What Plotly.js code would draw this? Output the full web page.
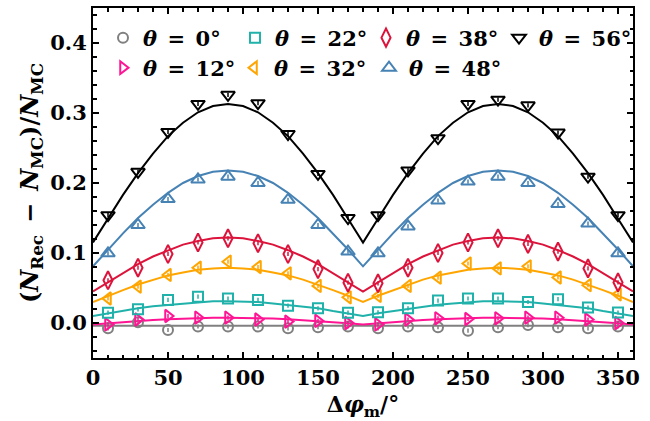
<!DOCTYPE html>
<html><head><meta charset="utf-8">
<script src="https://cdn.plot.ly/plotly-3.0.1.min.js"></script>
<style>html,body{margin:0;padding:0;background:#fff}#chart{width:650px;height:421px}</style>
</head><body><div id="chart"></div>
<script>
// Data points (Δφ_m in degrees)
const phiPts = [10,30,50,70,90,110,130,150,170,190,210,230,250,270,290,310,330,350];
const pts0  = [-0.0076,0.001,-0.010,-0.005,-0.005,-0.005,-0.0076,-0.006,-0.005,-0.0076,-0.005,-0.006,-0.011,-0.006,-0.003,-0.006,-0.0076,-0.005];
const pts12 = [-0.002,0.005,0.010,0.0076,0.0076,0.005,0.002,0.003,0.000,-0.002,0.005,0.0067,0.0057,0.0067,0.0076,0.0076,0.005,0.000];
const pts22 = [0.0148,0.0195,0.033,0.0376,0.035,0.033,0.0248,0.021,0.0148,0.0152,0.021,0.032,0.035,0.035,0.030,0.034,0.022,0.015];
const pts32 = [0.035,0.052,0.0686,0.079,0.0876,0.080,0.071,0.053,0.0367,0.0386,0.053,0.0648,0.085,0.078,0.081,0.065,0.054,0.041];
const pts38 = [0.061,0.079,0.0986,0.115,0.121,0.114,0.0986,0.077,0.0576,0.0567,0.079,0.100,0.115,0.121,0.113,0.102,0.078,0.058];
const pts48 = [0.0995,0.140,0.177,0.205,0.209,0.200,0.176,0.140,0.102,0.0995,0.138,0.175,0.202,0.209,0.200,0.170,0.142,0.0995];
const pts56 = [0.154,0.216,0.273,0.313,0.326,0.314,0.270,0.213,0.150,0.154,0.218,0.264,0.313,0.319,0.311,0.272,0.209,0.154];
const errs  = [0.003,0.003,0.003,0.003,0.003,0.003,0.003];

// Fitted curves, read every 10 degrees
const phiFit = [0,10,20,30,40,50,60,70,80,90,100,110,120,130,140,150,160,170,180,190,200,210,220,230,240,250,260,270,280,290,300,310,320,330,340,350,360];
const fit0  = [-0.004,-0.004,-0.004,-0.004,-0.004,-0.004,-0.004,-0.004,-0.004,-0.004,-0.004,-0.004,-0.004,-0.004,-0.004,-0.004,-0.004,-0.004,-0.004,-0.004,-0.004,-0.004,-0.004,-0.004,-0.004,-0.004,-0.004,-0.004,-0.004,-0.004,-0.004,-0.004,-0.004,-0.004,-0.004,-0.004,-0.004];
const fit12 = [-0.002,-0.0003,0.0013,0.0028,0.0042,0.0054,0.0063,0.0070,0.0075,0.0076,0.0075,0.0070,0.0063,0.0054,0.0042,0.0028,0.0013,-0.0003,-0.002,-0.0003,0.0013,0.0028,0.0042,0.0054,0.0063,0.0070,0.0075,0.0076,0.0075,0.0070,0.0063,0.0054,0.0042,0.0028,0.0013,-0.0003,-0.002];
const fit22 = [0.010,0.014,0.017,0.021,0.024,0.026,0.028,0.030,0.031,0.031,0.031,0.030,0.028,0.026,0.024,0.021,0.017,0.014,0.010,0.014,0.017,0.021,0.024,0.026,0.028,0.030,0.031,0.031,0.031,0.030,0.028,0.026,0.024,0.021,0.017,0.014,0.010];
const fit32 = [0.030,0.039,0.047,0.055,0.062,0.068,0.072,0.076,0.078,0.079,0.078,0.076,0.072,0.068,0.062,0.055,0.047,0.039,0.030,0.039,0.047,0.055,0.062,0.068,0.072,0.076,0.078,0.079,0.078,0.076,0.072,0.068,0.062,0.055,0.047,0.039,0.030];
const fit38 = [0.045,0.058,0.071,0.084,0.095,0.104,0.112,0.117,0.121,0.122,0.121,0.117,0.112,0.104,0.095,0.084,0.071,0.058,0.045,0.058,0.071,0.084,0.095,0.104,0.112,0.117,0.121,0.122,0.121,0.117,0.112,0.104,0.095,0.084,0.071,0.058,0.045];
const fit48 = [0.081,0.105,0.128,0.150,0.169,0.186,0.200,0.210,0.216,0.218,0.216,0.210,0.200,0.186,0.169,0.150,0.128,0.105,0.081,0.105,0.128,0.150,0.169,0.186,0.200,0.210,0.216,0.218,0.216,0.210,0.200,0.186,0.169,0.150,0.128,0.105,0.081];
const fit56 = [0.115,0.149,0.183,0.214,0.242,0.267,0.286,0.301,0.310,0.313,0.310,0.301,0.286,0.267,0.242,0.214,0.183,0.149,0.115,0.149,0.183,0.214,0.242,0.267,0.286,0.301,0.310,0.313,0.310,0.301,0.286,0.267,0.242,0.214,0.183,0.149,0.115];

const thetaLabels = ['0','12','22','32','38','48','56'];
const colors  = ['#808080','#FF1493','#20B2AA','#FFA500','#DC143C','#4682B4','#000000'];
const symbols = ['circle-open','triangle-right-open','square-open','triangle-left-open','diamond-tall-open','triangle-up-open','triangle-down-open'];
const sizes   = [10,11,10,11,13,12,12];
const ptsAll  = [pts0,pts12,pts22,pts32,pts38,pts48,pts56];
const fitAll  = [fit0,fit12,fit22,fit32,fit38,fit48,fit56];

// legend entry placement (marker centre, px from page top-left)
const legMarkX = [125,125,257,256,388,391,521];
const legRowY  = [38,68,38,68,38,68,38];

const W = 650, H = 421, ML = 93, MR = 17, MT = 8, MB = 63;
const PW = W - ML - MR, PH = H - MT - MB;
const F = 'DejaVu Serif';

const traces = [];
for (let i = 0; i < 7; i++) {
  traces.push({
    x: phiFit, y: fitAll[i], type: 'scatter', mode: 'lines',
    line: {color: colors[i], width: 2}, showlegend: false, hoverinfo: 'skip'
  });
}
const layout = {
  width: W, height: H,
  margin: {l: ML, r: MR, t: MT, b: MB},
  paper_bgcolor: '#fff', plot_bgcolor: '#fff',
  showlegend: true,
  font: {family: F, color: '#000'},
  xaxis: {
    range: [0, 360], dtick: 50, tick0: 0,
    showgrid: false, zeroline: false,
    showline: true, linecolor: '#000', linewidth: 2, mirror: 'allticks',
    ticks: 'inside', ticklen: 6, tickwidth: 1.5, tickcolor: '#000',
    minor: {dtick: 10, ticks: 'inside', ticklen: 3.5, tickwidth: 1.2, tickcolor: '#000'},
    tickfont: {family: F, size: 21, weight: 'bold', color: '#000'},
    title: {text: 'Δ<i>φ</i><sub>m</sub>/°', font: {family: F, size: 22, weight: 'bold', color: '#000'}, standoff: 8}
  },
  yaxis: {
    range: [-0.05, 0.45], dtick: 0.1, tick0: 0, tickformat: '.1f',
    showgrid: false, zeroline: false,
    showline: true, linecolor: '#000', linewidth: 2, mirror: 'allticks',
    ticks: 'inside', ticklen: 6, tickwidth: 1.5, tickcolor: '#000',
    minor: {dtick: 0.02, ticks: 'inside', ticklen: 3.5, tickwidth: 1.2, tickcolor: '#000'},
    tickfont: {family: F, size: 21, weight: 'bold', color: '#000'},
    title: {text: '(<i>N</i><sub>Rec</sub>\u2002−\u2002<i>N</i><sub>MC</sub>)/<i>N</i><sub>MC</sub>', font: {family: F, size: 24, weight: 'bold', color: '#000'}, standoff: 5}
  }
};

for (let i = 0; i < 7; i++) {
  const lname = i === 0 ? 'legend' : 'legend' + (i + 1);
  traces.push({
    x: phiPts, y: ptsAll[i], type: 'scatter', mode: 'markers',
    name: '<i>θ</i>\u2002=\u2002' + thetaLabels[i] + '°',
    legend: lname,
    marker: {symbol: symbols[i], size: sizes[i], color: colors[i], line: {width: 2, color: colors[i]}},
    error_y: {type: 'constant', value: errs[i], thickness: 1.5, width: 0, color: colors[i]}
  });
  layout[lname] = {
    orientation: 'h', xref: 'paper', yref: 'paper',
    x: (legMarkX[i] - 22 - ML) / PW, xanchor: 'left',
    y: (H - MB - legRowY[i]) / PH, yanchor: 'middle',
    bgcolor: 'rgba(0,0,0,0)', borderwidth: 0,
    font: {family: F, size: 21, color: '#000', weight: 'bold'}, itemsizing: 'trace'
  };
}

Plotly.newPlot('chart', traces, layout, {displayModeBar: false, staticPlot: true});
</script>
</body></html>
